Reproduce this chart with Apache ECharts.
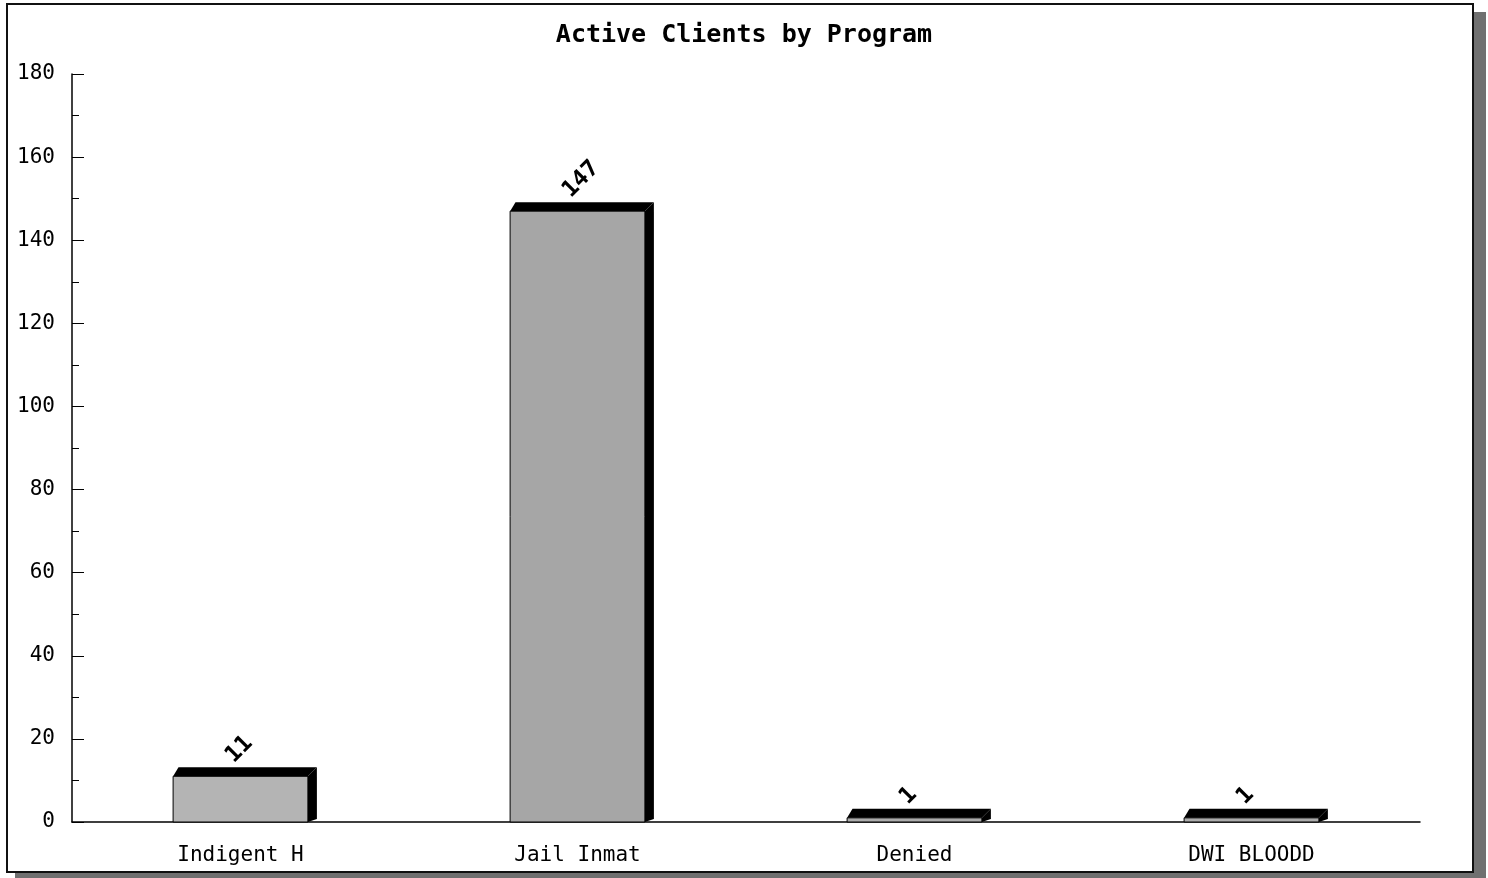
<!DOCTYPE html>
<html>
<head>
<meta charset="utf-8">
<script src="https://cdn.jsdelivr.net/npm/echarts@6/dist/echarts.min.js"></script>
<style>
html,body{margin:0;padding:0;background:#fff;}
#c{width:1488px;height:878px;}
</style>
</head>
<body>
<div id="c"></div>
<script>
const titleText = 'Active Clients by Program';
const categories = ['Indigent H', 'Jail Inmat', 'Denied', 'DWI BLOODD'];
const values = [11, 147, 1, 1];
const faceColors = ['#b4b4b4', '#a6a6a6', '#acacac', '#acacac'];
const yMin = 0, yMax = 180, yInterval = 20;

const chart = echarts.init(document.getElementById('c'));
const DEPTH = 9;

function renderItem(params, api) {
  const idx = api.value(0);
  const val = api.value(1);
  const top = api.coord([idx, val]);
  const base = api.coord([idx, 0]);
  const w = api.size([1, 0])[0] * 0.40;
  const xl = top[0] - w / 2, xr = top[0] + w / 2;
  const yt = top[1], yb = base[1];
  const d = DEPTH;
  return {
    type: 'group',
    children: [
      { type: 'rect', shape: { x: xl, y: yt, width: w, height: yb - yt },
        style: { fill: faceColors[idx], stroke: '#000', lineWidth: 1 } },
      { type: 'polygon', shape: { points: [[xl, yt], [xl + d * 0.6, yt - d], [xr + d, yt - d], [xr, yt]] },
        style: { fill: '#000' } },
      { type: 'polygon', shape: { points: [[xr, yt], [xr + d, yt - d], [xr + d, yb - 3], [xr, yb]] },
        style: { fill: '#000' } },
      { type: 'text', x: top[0] - 11, y: yt - d - 8, rotation: Math.PI / 4,
        style: { text: String(val), fill: '#000', font: 'bold 23px "DejaVu Sans Mono"',
                 align: 'left', verticalAlign: 'middle' } }
    ]
  };
}

chart.setOption({
  animation: false,
  backgroundColor: '#fff',
  graphic: [
    { type: 'rect', z: -10, shape: { x: 15, y: 12, width: 1471, height: 866 }, style: { fill: '#707070' } },
    { type: 'rect', z: -9, shape: { x: 7, y: 4, width: 1466, height: 868 }, style: { fill: '#fff', stroke: '#111', lineWidth: 2 } }
  ],
  title: {
    text: titleText, left: 'center', top: 18,
    textStyle: { fontFamily: 'DejaVu Sans Mono', fontWeight: 'bold', fontSize: 25, color: '#000' }
  },
  grid: { left: 72, right: 68, top: 74, bottom: 56, containLabel: false },
  xAxis: {
    type: 'category', data: categories,
    axisLine: { lineStyle: { color: '#000', width: 1.5 } },
    axisTick: { inside: true, length: 12, lineStyle: { color: '#000' } },
    axisLabel: { margin: 23, color: '#000', fontFamily: 'DejaVu Sans Mono', fontSize: 21 },
    splitLine: { show: false }
  },
  yAxis: {
    type: 'value', min: yMin, max: yMax, interval: yInterval,
    axisLine: { show: true, lineStyle: { color: '#000', width: 1.5 } },
    axisTick: { show: true, inside: true, length: 12, lineStyle: { color: '#000' } },
    minorTick: { show: true, splitNumber: 2, length: 7, lineStyle: { color: '#000' } },
    axisLabel: { margin: 17, color: '#000', fontFamily: 'DejaVu Sans Mono', fontSize: 21 },
    splitLine: { show: false }
  },
  series: [{
    type: 'custom',
    renderItem: renderItem,
    data: values.map((v, i) => [i, v]),
    encode: { x: 0, y: 1 },
    clip: false
  }]
});
</script>
</body>
</html>
